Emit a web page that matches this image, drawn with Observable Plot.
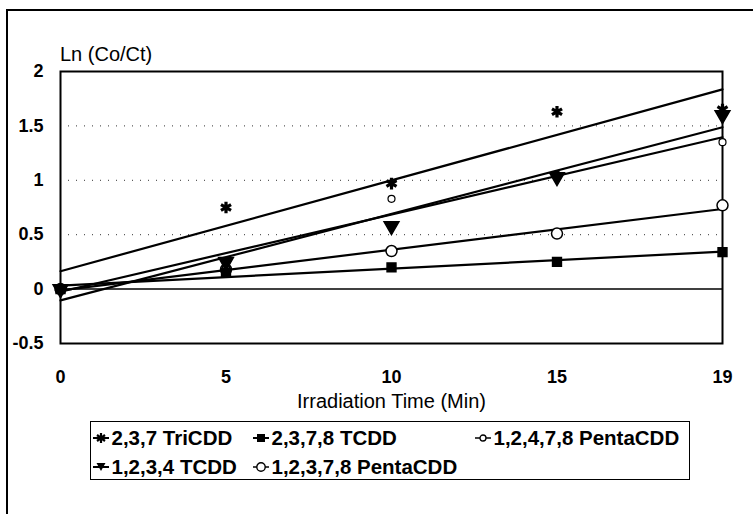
<!DOCTYPE html>
<html><head><meta charset="utf-8">
<script src="https://cdn.jsdelivr.net/npm/d3@7"></script>
<script src="https://cdn.jsdelivr.net/npm/@observablehq/plot@0.6"></script>
<style>
body{margin:0;background:#fff;font-family:"Liberation Sans",Arial,sans-serif;}
#wrap{position:relative;width:753px;height:514px;overflow:hidden;background:#fff;}
#chart{position:absolute;left:0;top:0;}
#frame{position:absolute;left:6px;top:9px;width:800px;height:600px;border-left:2px solid #000;border-top:2px solid #000;pointer-events:none;}
#legend{position:absolute;left:90px;top:421px;width:598px;height:57px;border:1.5px solid #000;background:#fff;}
.item{position:absolute;display:flex;align-items:center;font-weight:bold;font-size:20.5px;white-space:nowrap;line-height:20px;color:#000;}
.item svg{margin-right:2px;}
</style></head><body>
<div id="wrap"><div id="chart"></div><div id="frame"></div><div id="legend"></div></div>
<script>
// Category axis labels (Excel category axis: equally spaced)
const times = [0, 5, 10, 15, 19];
const seriesNames = ["2,3,7 TriCDD", "2,3,7,8 TCDD", "1,2,4,7,8 PentaCDD", "1,2,3,4 TCDD", "1,2,3,7,8 PentaCDD"];
// Ln(Co/Ct) values per series
const triCDD      = [0, 0.75, 0.97, 1.63, 1.65];
const tcdd2378    = [0, 0.15, 0.20, 0.25, 0.34];
const penta12478  = [0, 0.20, 0.83, 1.05, 1.35];
const tcdd1234    = [0, 0.25, 0.58, 1.03, 1.60];
const penta12378  = [0, 0.18, 0.35, 0.51, 0.77];
const yTicks = [-0.5, 0, 0.5, 1, 1.5, 2];
const gridValues = [0.5, 1, 1.5];

const seriesValues = [triCDD, tcdd2378, penta12478, tcdd1234, penta12378];
const rows = [];
seriesValues.forEach((vals, s) => vals.forEach((v, i) => rows.push({series: seriesNames[s], i, t: times[i], v})));
const of = name => rows.filter(d => d.series === name);

const plot = Plot.plot({
  width: 753,
  height: 514,
  marginLeft: 60,
  marginRight: 31,
  marginTop: 71,
  marginBottom: 171,
  style: {fontFamily: '"Liberation Sans", Arial, sans-serif', fontSize: "18px", background: "transparent", overflow: "visible"},
  x: {type: "linear", domain: [0, times.length - 1], ticks: d3.range(times.length), tickFormat: i => times[i],
      tickSize: 0, tickPadding: 27, label: "Irradiation Time (Min)", labelAnchor: "center", labelOffset: 64, labelArrow: "none"},
  y: {domain: [-0.5, 2], ticks: yTicks, tickFormat: d => String(d), tickSize: 0, tickPadding: 17,
      label: "Ln (Co/Ct)", labelAnchor: "top", labelOffset: 0, labelArrow: "none"},
  marks: [
    Plot.ruleY(gridValues, {stroke: "#000", strokeWidth: 1, strokeDasharray: "1,7", strokeOpacity: 0.8}),
    Plot.ruleY([0], {stroke: "#000", strokeWidth: 1.5}),
    Plot.frame({stroke: "#000", strokeWidth: 2}),
    Plot.linearRegressionY(rows, {x: "i", y: "v", z: "series", stroke: "#000", strokeWidth: 2.2, ci: 0}),
    Plot.dot(of(seriesNames[4]), {x: "i", y: "v", symbol: "circle", r: 5.5, fill: "#fff", stroke: "#000", strokeWidth: 1.5}),
    Plot.dot(of(seriesNames[2]), {x: "i", y: "v", symbol: "circle", r: 3.5, fill: "#fff", stroke: "#000", strokeWidth: 1.2}),
    Plot.dot(of(seriesNames[1]), {x: "i", y: "v", symbol: "square", r: 5, fill: "#000", stroke: "#000"}),
    Plot.dot(of(seriesNames[3]), {x: "i", y: "v", symbol: "triangle", r: 5.5, fill: "#000", stroke: "#000", rotate: 180}),
    Plot.dot(of(seriesNames[0]), {x: "i", y: "v", symbol: "asterisk", r: 5.5, stroke: "#000", strokeWidth: 3.2})
  ]
});
document.getElementById("chart").appendChild(plot);

const svg = d3.select(plot);
svg.selectAll('[aria-label="x-axis tick label"], [aria-label="y-axis tick label"]').attr("font-weight", "bold").attr("font-size", 18);
svg.selectAll('[aria-label="x-axis label"]').attr("font-size", 20).selectAll("text").text("Irradiation Time (Min)");
svg.selectAll('[aria-label="y-axis label"]').attr("font-size", 20).attr("transform", "translate(0,-24)").selectAll("text").text("Ln (Co/Ct)");

// Legend
const markerSvg = {
  [seriesNames[0]]: '<line x1="1" y1="7" x2="17" y2="7" stroke="#000" stroke-width="2"/><path d="M9 2v10M5 4l8 6M13 4l-8 6" stroke="#000" stroke-width="2.2"/>',
  [seriesNames[1]]: '<line x1="1" y1="7" x2="17" y2="7" stroke="#000" stroke-width="2"/><rect x="5" y="3" width="8" height="8" fill="#000"/>',
  [seriesNames[2]]: '<line x1="1" y1="7" x2="17" y2="7" stroke="#000" stroke-width="1.5"/><circle cx="9" cy="7" r="3" fill="#fff" stroke="#000" stroke-width="1.3"/>',
  [seriesNames[3]]: '<line x1="1" y1="7" x2="17" y2="7" stroke="#000" stroke-width="2"/><path d="M4.5 3h9l-4.5 8z" fill="#000"/>',
  [seriesNames[4]]: '<line x1="1" y1="7" x2="17" y2="7" stroke="#000" stroke-width="1.5"/><circle cx="9" cy="7" r="4.2" fill="#fff" stroke="#000" stroke-width="1.4"/>'
};
const legendPos = [[0.5, 6], [160.5, 6], [382.5, 6], [0.5, 35], [160.5, 35]];
const legend = document.getElementById("legend");
seriesNames.forEach((name, k) => {
  const div = document.createElement("div");
  div.className = "item";
  div.style.left = legendPos[k][0] + "px";
  div.style.top = legendPos[k][1] + "px";
  div.innerHTML = `<svg width="18" height="14">${markerSvg[name]}</svg><span>${name}</span>`;
  legend.appendChild(div);
});
</script>
</body></html>
